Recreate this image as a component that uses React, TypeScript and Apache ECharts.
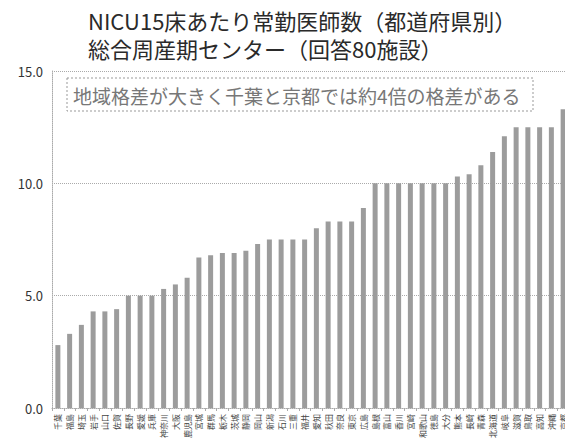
import React, { useEffect, useRef } from "react";
import * as echarts from "echarts";

const prefectures = [
  "千葉", "福島", "埼玉", "岩手", "山口", "佐賀", "長野", "愛媛", "兵庫", "神奈川", "大阪",
  "鹿児島", "宮城", "群馬", "栃木", "茨城", "静岡", "岡山", "新潟", "石川", "三重", "福井",
  "愛知", "秋田", "奈良", "東京", "広島", "島根", "富山", "香川", "宮崎", "和歌山", "徳島",
  "大分", "熊本", "長崎", "青森", "北海道", "岐阜", "滋賀", "鳥取", "高知", "沖縄", "京都",
];

const doctorsPer15Beds = [
  2.8, 3.3, 3.7, 4.3, 4.3, 4.4, 5.0, 5.0, 5.0, 5.3, 5.5,
  5.8, 6.7, 6.8, 6.9, 6.9, 7.0, 7.3, 7.5, 7.5, 7.5, 7.5,
  8.0, 8.3, 8.3, 8.3, 8.9, 10.0, 10.0, 10.0, 10.0, 10.0, 10.0,
  10.0, 10.3, 10.4, 10.8, 11.4, 12.1, 12.5, 12.5, 12.5, 12.5, 13.3,
];

const titleLine1 = "NICU15床あたり常勤医師数（都道府県別）";
const titleLine2 = "総合周産期センター（回答80施設）";
const note = "地域格差が大きく千葉と京都では約4倍の格差がある";

const FONT = "'Noto Sans CJK JP', 'Noto Sans', sans-serif";

export default function App() {
  const ref = useRef<HTMLDivElement>(null);
  useEffect(() => {
    document.body.style.margin = "0";
    if (!ref.current) return;
    const chart = echarts.init(ref.current, undefined, { renderer: "svg" });
    chart.setOption({
      animation: false,
      backgroundColor: "#ffffff",
      textStyle: { fontFamily: FONT },
      title: [
        {
          text: titleLine1,
          left: 88,
          top: 8,
          padding: 0,
          textStyle: { fontFamily: FONT, fontSize: 22, lineHeight: 23, fontWeight: "normal", color: "#2a2a2a" },
        },
        {
          text: titleLine2,
          left: 88,
          top: 36,
          padding: 0,
          textStyle: { fontFamily: FONT, fontSize: 22, lineHeight: 23, fontWeight: "normal", color: "#2a2a2a" },
        },
      ],
      grid: {
        left: 52,
        top: 71,
        width: 517,
        height: 337,
        outerBoundsMode: "none",
        containLabel: false,
      },
      xAxis: {
        type: "category",
        data: prefectures,
        axisLine: { show: true, lineStyle: { color: "#aaa", type: "dotted", width: 1 } },
        axisTick: { show: true, length: 3, lineStyle: { color: "#aaa" } },
        axisLabel: {
          interval: 0,
          rotate: 90,
          margin: 6,
          fontSize: 8,
          color: "#444",
          fontFamily: FONT,
        },
      },
      yAxis: {
        type: "value",
        min: 0,
        max: 15,
        interval: 5,
        axisLine: { show: true, lineStyle: { color: "#aaa", type: "dotted", width: 1 } },
        axisTick: { show: false },
        axisLabel: {
          formatter: (v: number) => v.toFixed(1),
          fontSize: 13,
          color: "#333",
          margin: 9,
          fontFamily: FONT,
        },
        splitLine: { show: true, lineStyle: { color: "#aaa", type: "dotted", width: 1 } },
      },
      series: [
        {
          type: "bar",
          data: doctorsPer15Beds,
          barWidth: 5,
          itemStyle: { color: "#9c9c9c" },
        },
      ],
      graphic: [
        {
          type: "rect",
          shape: { x: 67, y: 78, width: 466, height: 33 },
          style: { fill: "#fff", stroke: "#999", lineWidth: 1, lineDash: [2, 2] },
          z: 100,
        },
        {
          type: "text",
          x: 73,
          y: 95,
          style: {
            text: note,
            fontSize: 19,
            fill: "#777",
            fontFamily: FONT,
            verticalAlign: "middle",
          },
          z: 101,
        },
      ],
    });
    return () => chart.dispose();
  }, []);
  return <div ref={ref} style={{ width: 565, height: 439 }} />;
}
